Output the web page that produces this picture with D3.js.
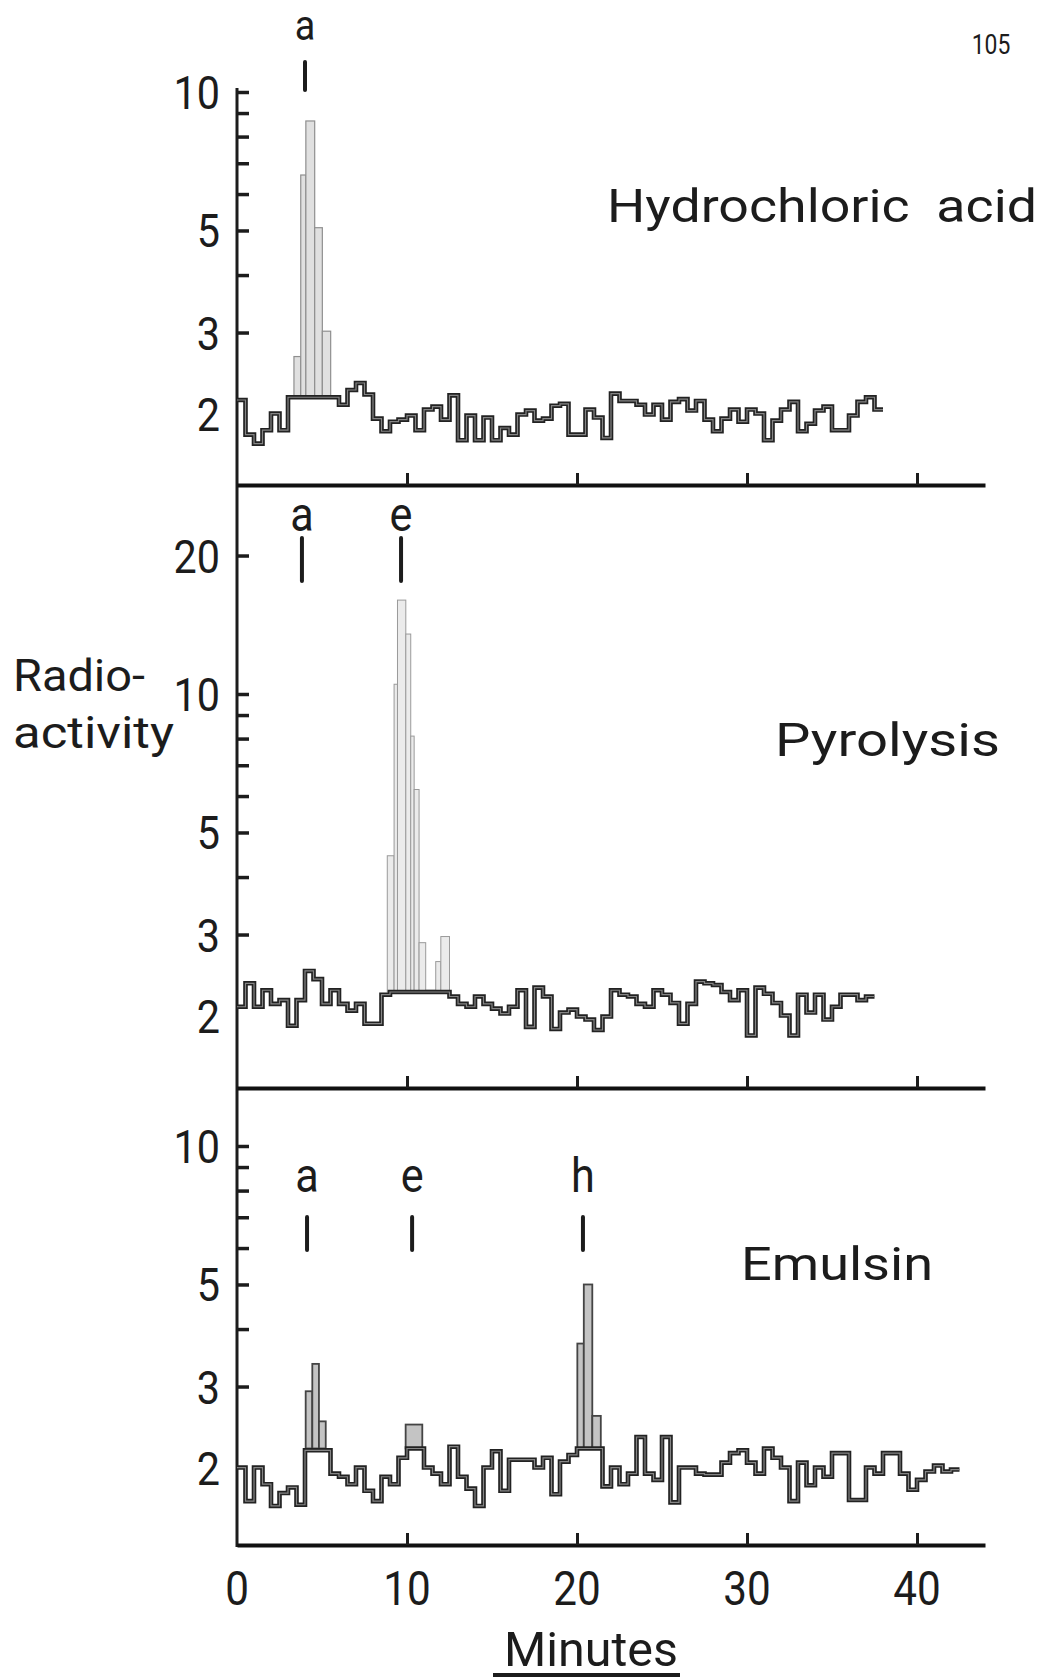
<!DOCTYPE html>
<html>
<head>
<meta charset="utf-8">
<script src="https://cdn.jsdelivr.net/npm/d3@7"></script>
<style>
  html, body { margin: 0; padding: 0; background: #fff; }
  svg { display: block; }
  text { font-family: Roboto, "DejaVu Sans", sans-serif; fill: #1c1c1c; }
</style>
</head>
<body>
<svg width="1050" height="1680"></svg>
<script>
// radioactivity counted in half-minute fractions (log scale)
var binMinutes = 0.5;

// Hydrochloric acid
var hclCounts = [
  2.14, 1.8, 1.72, 1.84, 2.0, 1.84, 2.17, 2.17, 2.17, 2.17,
  2.17, 2.17, 2.09, 2.25, 2.33, 2.2, 1.95, 1.83, 1.92, 1.94,
  1.98, 1.84, 2.04, 2.07, 1.94, 2.19, 1.75, 1.98, 1.75, 1.96,
  1.75, 1.86, 1.8, 1.99, 2.03, 1.93, 1.95, 2.08, 2.1, 1.8,
  1.8, 2.04, 1.96, 1.77, 2.21, 2.13, 2.13, 2.09, 1.99, 2.09,
  1.94, 2.12, 2.15, 2.03, 2.13, 1.94, 1.83, 1.95, 2.04, 1.92,
  2.04, 2.0, 1.75, 1.93, 2.04, 2.12, 1.83, 1.9, 2.03, 2.07,
  1.84, 1.84, 1.98, 2.12, 2.17, 2.04
];
var hclEnd = 38;
var hclPeakEdges = [3.35, 3.75, 4.05, 4.57, 5.02, 5.51];
var hclPeakCounts = [2.66, 6.6, 8.65, 5.07, 3.02];
var hclPeakBase = 2.17;
var hclMarkerLabels = ["a"];
var hclMarkerTimes = [4.0];

// Pyrolysis
var pyrCounts = [
  2.09, 2.35, 2.09, 2.27, 2.12, 2.16, 1.9, 2.16, 2.5, 2.4,
  2.12, 2.27, 2.12, 2.05, 2.12, 1.92, 1.92, 2.22, 2.25, 2.25,
  2.25, 2.25, 2.25, 2.25, 2.25, 2.2, 2.12, 2.09, 2.2, 2.12,
  2.07, 2.02, 2.09, 2.27, 1.89, 2.3, 2.2, 1.87, 2.03, 2.06,
  1.99, 1.96, 1.86, 1.99, 2.27, 2.22, 2.2, 2.12, 2.09, 2.27,
  2.22, 2.13, 1.92, 2.12, 2.37, 2.35, 2.33, 2.25, 2.16, 2.27,
  1.81, 2.3, 2.23, 2.13, 2.0, 1.81, 2.22, 2.03, 2.22, 1.96,
  2.09, 2.22, 2.22, 2.16, 2.2
];
var pyrEnd = 37.5;
var pyrPeakEdges = [8.84, 9.24, 9.44, 9.93, 10.22, 10.42, 10.71, 11.1, 11.69, 11.99, 12.5];
var pyrPeakCounts = [4.45, 10.5, 16, 13.5, 8.1, 6.2, 2.88, 2.27, 2.62, 2.97];
var pyrPeakBase = 2.25;
var pyrMarkerLabels = ["a", "e"];
var pyrMarkerTimes = [3.82, 9.65];

// Emulsin
var emuCounts = [
  2.0, 1.69, 2.0, 1.84, 1.65, 1.76, 1.81, 1.66, 2.18, 2.18,
  2.18, 1.94, 1.91, 1.84, 2.0, 1.78, 1.69, 1.91, 1.84, 2.1,
  2.2, 2.2, 2.0, 1.94, 1.84, 2.22, 1.91, 1.8, 1.65, 2.0,
  2.17, 1.78, 2.08, 2.08, 2.08, 2.0, 2.1, 1.75, 2.06, 2.13,
  2.2, 2.2, 2.2, 1.82, 2.0, 1.84, 1.94, 2.33, 1.94, 1.88,
  2.33, 1.68, 2.0, 2.0, 1.94, 1.93, 1.93, 2.05, 2.15, 2.18,
  2.05, 1.94, 2.2, 2.1, 2.0, 1.69, 2.05, 1.83, 2.0, 1.91,
  2.15, 2.15, 1.7, 1.7, 2.0, 1.94, 2.15, 2.15, 1.94, 1.79,
  1.88, 1.96, 2.02, 1.96, 1.98
];
var emuEnd = 42.5;
var emuPeakAEdges = [4.04, 4.43, 4.82, 5.22];
var emuPeakACounts = [2.93, 3.36, 2.52];
var emuPeakEEdges = [9.92, 10.9];
var emuPeakECounts = [2.48];
var emuPeakHEdges = [20.02, 20.4, 20.9, 21.4];
var emuPeakHCounts = [3.72, 5.0, 2.59];
var emuPeakBase = 2.2;
var emuMarkerLabels = ["a", "e", "h"];
var emuMarkerTimes = [4.12, 10.3, 20.35];

var minuteTicks = [0, 10, 20, 30, 40];

var svg = d3.select("svg");
var x = d3.scaleLinear().domain([0, 44]).range([237, 985]);
var decade = 460;

var panels = [
  {title: "Hydrochloric\u00a0\u00a0acid", tx: 607, ty: 222, tw: 430,
   counts: hclCounts, end: hclEnd, top10: 92, axisY: 485,
   peaks: [{edges: hclPeakEdges, counts: hclPeakCounts, base: hclPeakBase}],
   peakFill: "#e0e0e0", peakStroke: "#8f8f8f", peakWidth: 1.2,
   labels: [10, 5, 3, 2], ticks: [10, 9, 8, 7, 6, 5, 4, 3],
   mLabels: hclMarkerLabels, mTimes: hclMarkerTimes, mSize: 42, mBase: 40, bar: [62, 90]},
  {title: "Pyrolysis", tx: 775, ty: 756, tw: 225,
   counts: pyrCounts, end: pyrEnd, top10: 694, axisY: 1088,
   peaks: [{edges: pyrPeakEdges, counts: pyrPeakCounts, base: pyrPeakBase}],
   peakFill: "#ebebeb", peakStroke: "#9a9a9a", peakWidth: 1,
   labels: [20, 10, 5, 3, 2], ticks: [20, 10, 9, 8, 7, 6, 5, 4, 3],
   mLabels: pyrMarkerLabels, mTimes: pyrMarkerTimes, mSize: 48, mBase: 531, bar: [538, 581]},
  {title: "Emulsin", tx: 741, ty: 1280, tw: 192,
   counts: emuCounts, end: emuEnd, top10: 1146, axisY: 1545,
   peaks: [
     {edges: emuPeakAEdges, counts: emuPeakACounts, base: emuPeakBase},
     {edges: emuPeakEEdges, counts: emuPeakECounts, base: emuPeakBase},
     {edges: emuPeakHEdges, counts: emuPeakHCounts, base: emuPeakBase}
   ],
   peakFill: "#c4c4c4", peakStroke: "#444", peakWidth: 1.8,
   labels: [10, 5, 3, 2], ticks: [10, 9, 8, 7, 6, 5, 4, 3],
   mLabels: emuMarkerLabels, mTimes: emuMarkerTimes, mSize: 48, mBase: 1192, bar: [1217, 1250]}
];

// condensed lettering: squeeze glyphs horizontally around the anchor point
function letter(g, str, px, py, size, anchor, sx) {
  return g.append("text")
    .attr("transform", "translate(" + px + "," + py + ") scale(" + sx + ",1)")
    .attr("text-anchor", anchor)
    .style("font-size", size + "px")
    .text(str);
}

// the one vertical axis runs through all three panels
svg.append("line")
  .attr("x1", x(0)).attr("x2", x(0))
  .attr("y1", 88).attr("y2", 1547)
  .attr("stroke", "#1c1c1c").attr("stroke-width", 3);

panels.forEach(function(p) {
  var y = d3.scaleLog().domain([1, 10]).range([p.top10 + decade, p.top10]);
  var g = svg.append("g");

  // peaks, shaded above the background line
  p.peaks.forEach(function(pk) {
    g.append("g").selectAll("rect")
      .data(pk.counts)
      .enter().append("rect")
      .attr("x", function(d, i) { return x(pk.edges[i]); })
      .attr("width", function(d, i) { return x(pk.edges[i + 1]) - x(pk.edges[i]); })
      .attr("y", function(d) { return y(d); })
      .attr("height", function(d) { return y(pk.base) - y(d); })
      .attr("fill", p.peakFill)
      .attr("stroke", p.peakStroke)
      .attr("stroke-width", p.peakWidth);
  });

  // background counts as a step trace
  var pts = p.counts.map(function(v, i) { return [i * binMinutes, v]; });
  pts.push([p.end, p.counts[p.counts.length - 1]]);
  var line = d3.line()
    .x(function(d) { return x(d[0]); })
    .y(function(d) { return y(d[1]); })
    .curve(d3.curveStepAfter);
  g.append("path").attr("d", line(pts))
    .attr("fill", "none").attr("stroke", "#222").attr("stroke-width", 4.6);
  g.append("path").attr("d", line(pts))
    .attr("fill", "none").attr("stroke", "#858585").attr("stroke-width", 1.2);

  // y ticks
  var yAxis = g.append("g")
    .attr("transform", "translate(" + x(0) + ",0)")
    .call(d3.axisRight(y).tickValues(p.ticks).tickSize(12).tickFormat(""));
  yAxis.select(".domain").remove();
  yAxis.selectAll(".tick line").attr("stroke", "#1c1c1c").attr("stroke-width", 3.5);

  p.labels.forEach(function(v) {
    letter(g, String(v), 220, y(v) + 17, 47, "end", 0.88);
  });

  // minutes axis
  var xAxis = g.append("g")
    .attr("transform", "translate(0," + p.axisY + ")")
    .call(d3.axisTop(x).tickValues([10, 20, 30, 40]).tickSize(12).tickSizeOuter(0).tickFormat(""));
  xAxis.select(".domain").attr("stroke", "#111").attr("stroke-width", 4);
  xAxis.selectAll(".tick line").attr("stroke", "#1c1c1c").attr("stroke-width", 3);

  // peak markers
  p.mLabels.forEach(function(lab, i) {
    var mx = x(p.mTimes[i]);
    letter(g, lab, mx, p.mBase, p.mSize, "middle", 0.9);
    g.append("line")
      .attr("x1", mx).attr("x2", mx)
      .attr("y1", p.bar[0]).attr("y2", p.bar[1])
      .attr("stroke", "#1c1c1c").attr("stroke-width", 4)
      .attr("stroke-linecap", "round");
  });

  g.append("text")
    .attr("x", p.tx).attr("y", p.ty)
    .attr("textLength", p.tw).attr("lengthAdjust", "spacingAndGlyphs")
    .style("font-size", "46px")
    .text(p.title);
});

// minute labels under the bottom panel
minuteTicks.forEach(function(t) {
  letter(svg, String(t), x(t), 1605, 48, "middle", 0.88);
});

svg.append("text")
  .attr("x", 504).attr("y", 1666)
  .attr("textLength", 174).attr("lengthAdjust", "spacingAndGlyphs")
  .style("font-size", "48px")
  .text("Minutes");
svg.append("line")
  .attr("x1", 493).attr("x2", 680).attr("y1", 1675).attr("y2", 1675)
  .attr("stroke", "#1c1c1c").attr("stroke-width", 4);

svg.append("text").attr("x", 13).attr("y", 691)
  .attr("textLength", 132).attr("lengthAdjust", "spacingAndGlyphs")
  .style("font-size", "44px").text("Radio-");
svg.append("text").attr("x", 13).attr("y", 748)
  .attr("textLength", 161).attr("lengthAdjust", "spacingAndGlyphs")
  .style("font-size", "44px").text("activity");

letter(svg, "105", 991, 54, 27, "middle", 0.85);
</script>
</body>
</html>
